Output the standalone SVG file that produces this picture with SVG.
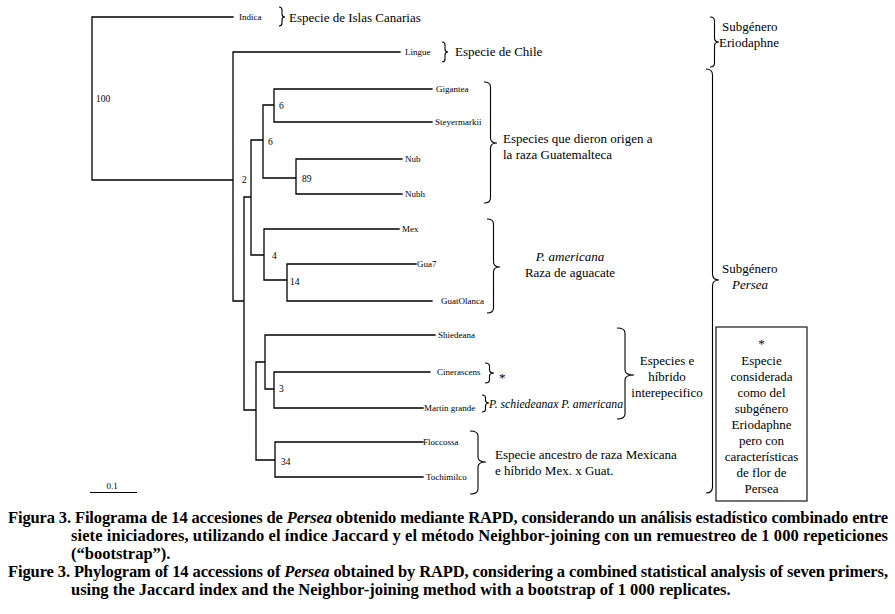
<svg xmlns="http://www.w3.org/2000/svg" width="895" height="614" viewBox="0 0 895 614">
<style>
.br{stroke:#000;stroke-width:1.3;fill:none;stroke-linecap:square}
.bc{stroke:#000;stroke-width:1.1;fill:none}
.lf{font-family:"Liberation Serif",serif;font-size:9px;fill:#000}
.bs{font-family:"Liberation Serif",serif;font-size:9.5px;fill:#000}
.an{font-family:"Liberation Serif",serif;font-size:13px;fill:#000}
.it{font-style:italic}
.cap{font-family:"Liberation Serif",serif;font-size:16.5px;font-weight:bold;fill:#000}
.mid{text-anchor:middle}
</style>
<rect width="895" height="614" fill="#fff"/>
<g id="connectors">
<path class="br" d="M92 17V180M92 17H233M92 180H233
M233 52V301M233 52H400M233 301H244
M244 197V410M244 197H251M244 410H256
M251 140V255M251 140H263M251 255H264
M263 105V178M263 105H274M263 178H296
M274 89V122M274 89H432M274 122H432
M296 159V194M296 159H402M296 194H402
M264 229V280M264 229H399M264 280H287
M287 264V301M287 264H416M287 301H432
M256 362V460M256 362H265M256 460H275
M265 335V389M265 335H435M265 389H274
M274 372V408M274 372H430M274 408H423
M275 442V477M275 442H423M275 477H423"/>
</g>
<g id="bootstrap">
<text class="bs" x="96" y="102">100</text>
<text class="bs" x="242" y="183">2</text>
<text class="bs" x="279" y="109">6</text>
<text class="bs" x="268" y="145">6</text>
<text class="bs" x="302" y="182">89</text>
<text class="bs" x="272" y="259">4</text>
<text class="bs" x="290" y="285">14</text>
<text class="bs" x="279" y="392">3</text>
<text class="bs" x="281" y="465">34</text>
</g>
<g id="leaf-indica"><text class="lf" x="239" y="20">Indica</text></g>
<g id="leaf-lingue"><text class="lf" x="405" y="55">Lingue</text></g>
<g id="leaf-gigantea"><text class="lf" x="436" y="92">Gigantea</text></g>
<g id="leaf-steyermarkii"><text class="lf" x="435" y="125">Steyermarkii</text></g>
<g id="leaf-nub"><text class="lf" x="405" y="162">Nub</text></g>
<g id="leaf-nubh"><text class="lf" x="405" y="197">Nubh</text></g>
<g id="leaf-mex"><text class="lf" x="402" y="232">Mex</text></g>
<g id="leaf-gua7"><text class="lf" x="417" y="267">Gua7</text></g>
<g id="leaf-guatolanca"><text class="lf" x="441" y="304">GuatOlanca</text></g>
<g id="leaf-shiedeana"><text class="lf" x="438" y="338">Shiedeana</text></g>
<g id="leaf-cinerascens"><text class="lf" x="437" y="375">Cinerascens</text></g>
<g id="leaf-martin"><text class="lf" x="424" y="411">Martin grande</text></g>
<g id="leaf-floccossa"><text class="lf" x="423" y="445">Floccossa</text></g>
<g id="leaf-tochimilco"><text class="lf" x="426" y="480">Tochimilco</text></g>
<g id="ann-canarias">
<path class="bc" d="M279 7Q282 7 282 10L282 14Q282 17 285 17Q282 17 282 20L282 23Q282 26 279 26"/>
<text class="an" x="289" y="22">Especie de Islas Canarias</text>
</g>
<g id="ann-chile">
<path class="bc" d="M442 42Q445 42 445 45L445 49Q445 52 448 52Q445 52 445 55L445 59Q445 62 442 62"/>
<text class="an" x="455" y="56">Especie de Chile</text>
</g>
<g id="ann-guatemalteca">
<path class="bc" d="M484 82Q490.5 82 490.5 87L490.5 138Q490.5 143 497 143Q490.5 143 490.5 148L490.5 198Q490.5 203 484 203"/>
<text class="an" x="503" y="143">Especies que dieron origen a</text>
<text class="an" x="503" y="159">la raza Guatemalteca</text>
</g>
<g id="ann-americana">
<path class="bc" d="M487 219Q493.5 219 493.5 224L493.5 262Q493.5 267 500 267Q493.5 267 493.5 272L493.5 308Q493.5 313 487 313"/>
<text class="an it mid" x="570" y="261">P. americana</text>
<text class="an mid" x="570" y="277">Raza de aguacate</text>
</g>
<g id="ann-cinerascens">
<path class="bc" d="M485 363Q489.5 363 489.5 366L489.5 370Q489.5 373 494 373Q489.5 373 489.5 376L489.5 380Q489.5 383 485 383"/>
<text class="an" x="499" y="382">*</text>
</g>
<g id="ann-martin">
<path class="bc" d="M482 395Q485.5 395 485.5 398L485.5 400Q485.5 403 489 403Q485.5 403 485.5 406L485.5 409Q485.5 412 482 412"/>
<text class="an it" x="489" y="408" font-size="12" textLength="134" lengthAdjust="spacingAndGlyphs">P. schiedeanax  P. americana</text>
</g>
<g id="ann-hibrido">
<path class="bc" d="M617 328Q625 328 625 333L625 370Q625 375 634 375Q625 375 625 380L625 414Q625 419 617 419"/>
<text class="an mid" x="667" y="365">Especies e</text>
<text class="an mid" x="667" y="381">híbrido</text>
<text class="an mid" x="667" y="397">interepecifico</text>
</g>
<g id="ann-mexicana">
<path class="bc" d="M470 431Q478 431 478 436L478 457Q478 462 486 462Q478 462 478 467L478 489Q478 494 470 494"/>
<text class="an" x="495" y="459">Especie ancestro de raza Mexicana</text>
<text class="an" x="495" y="475">e híbrido Mex. x Guat.</text>
</g>
<g id="ann-eriodaphne">
<path class="bc" d="M710 17Q714.5 17 714.5 21L714.5 38Q714.5 42 719 42Q714.5 42 714.5 46L714.5 63Q714.5 67 710 67"/>
<text class="an" x="722" y="31">Subgénero</text>
<text class="an" x="719" y="47">Eriodaphne</text>
</g>
<g id="ann-persea">
<path class="bc" d="M706 69Q712.5 69 712.5 75L712.5 274Q712.5 280 719 280Q712.5 280 712.5 286L712.5 487Q712.5 493 706 493"/>
<text class="an" x="722" y="273">Subgénero</text>
<text class="an it" x="732" y="289">Persea</text>
</g>
<g id="note-box">
<rect x="716" y="327" width="91" height="174" fill="#fff" stroke="#000" stroke-width="1.1"/>
<text class="an mid" x="761.5" y="348">*</text>
<text class="an mid" x="761.5" y="365">Especie</text>
<text class="an mid" x="761.5" y="381">considerada</text>
<text class="an mid" x="761.5" y="397">como del</text>
<text class="an mid" x="761.5" y="413">subgénero</text>
<text class="an mid" x="761.5" y="429">Eriodaphne</text>
<text class="an mid" x="761.5" y="445">pero con</text>
<text class="an mid" x="761.5" y="461">características</text>
<text class="an mid" x="761.5" y="477">de flor de</text>
<text class="an mid" x="761.5" y="493">Persea</text>
</g>
<g id="scale-bar">
<line x1="90" y1="492.5" x2="137" y2="492.5" stroke="#000" stroke-width="1.1"/>
<text class="lf mid" x="112" y="489">0.1</text>
</g>
<g id="caption">
<text class="cap" x="8" y="523" textLength="880" lengthAdjust="spacing">Figura 3. Filograma de 14 accesiones de <tspan font-style="italic">Persea</tspan> obtenido mediante RAPD, considerando un análisis estadístico combinado entre</text>
<text class="cap" x="71" y="541" textLength="817" lengthAdjust="spacing">siete iniciadores, utilizando el índice Jaccard y el método Neighbor-joining con un remuestreo de 1 000 repeticiones</text>
<text class="cap" x="71" y="559">(“bootstrap”).</text>
<text class="cap" x="8" y="577" textLength="880" lengthAdjust="spacing">Figure 3. Phylogram of 14 accessions of <tspan font-style="italic">Persea</tspan> obtained by RAPD, considering a combined statistical analysis of seven primers,</text>
<text class="cap" x="71" y="595">using the Jaccard index and the Neighbor-joining method with a bootstrap of 1 000 replicates.</text>
</g>
</svg>
